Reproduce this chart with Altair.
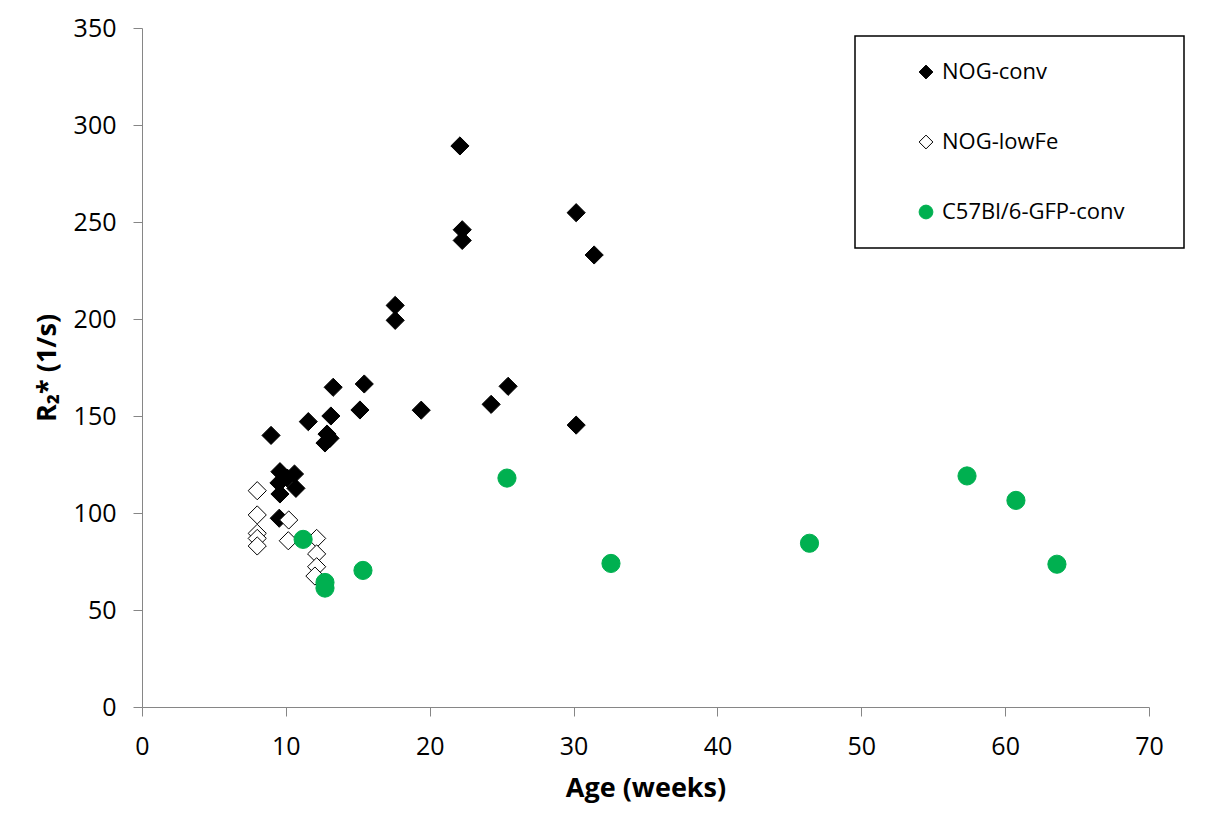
import altair as alt
import pandas as pd

# NOG-conv (filled black diamonds)
conv_age = [22.1, 22.26, 22.26, 30.18, 31.43, 17.6, 17.6, 15.45, 13.29, 25.45, 24.27,
            19.41, 15.15, 13.13, 11.56, 8.97, 12.86, 13.07, 12.72, 30.18,
            9.59, 10.6, 10.1, 9.52, 10.7, 9.59, 9.54]
conv_r2 = [289.2, 246.0, 240.5, 254.8, 233.0, 207.0, 199.3, 166.5, 164.8, 165.3, 156.0,
           153.0, 153.1, 150.0, 147.1, 140.0, 140.7, 138.5, 136.1, 145.3,
           121.3, 120.1, 118.0, 115.5, 112.7, 109.8, 97.3]

# NOG-lowFe (open diamonds)
low_age = [8.01, 8.01, 8.01, 8.01, 8.01, 10.2, 10.17, 12.14, 12.14, 12.14, 12.02]
low_r2 = [111.5, 99.0, 89.5, 86.9, 83.0, 96.4, 85.7, 86.9, 78.9, 72.3, 67.5]

# C57Bl/6-GFP-conv (green circles)
gfp_age = [11.2, 12.72, 12.72, 15.36, 25.37, 32.6, 46.4, 57.35, 60.75, 63.6]
gfp_r2 = [86.4, 64.2, 61.3, 70.4, 118.0, 74.0, 84.4, 119.1, 106.5, 73.6]

series_names = ["NOG-conv", "NOG-lowFe", "C57Bl/6-GFP-conv"]
shapes = ["diamond", "diamond", "circle"]
fills = ["#000000", "#ffffff", "#00B050"]
strokes = ["#000000", "#000000", "#00B050"]
x_ticks = [0, 10, 20, 30, 40, 50, 60, 70]
y_ticks = [0, 50, 100, 150, 200, 250, 300, 350]

rows = []
for name, ages, vals in zip(series_names, [conv_age, low_age, gfp_age], [conv_r2, low_r2, gfp_r2]):
    for a, v in zip(ages, vals):
        rows.append({"series": name, "age": a, "r2": v})
df = pd.DataFrame(rows)

FONT = "Open Sans"
AXIS_GREY = "#868686"
# invisible trailing room so the legend frame is as wide as in the original
PAD = "\u00a0" * 6 + "\u200b"

leg = alt.Legend(
    title=None, orient="none", legendX=713, legendY=8,
    strokeColor="#000000", padding=25, rowPadding=48,
    symbolSize=190, symbolStrokeWidth=1, symbolOffset=35, labelOffset=5,
    labelFont=FONT, labelFontSize=22, labelColor="#000000", labelLimit=600,
    labelExpr="datum.label + '" + PAD + "'",
)

chart = alt.Chart(df).mark_point(size=330, filled=False, strokeWidth=1, opacity=1).encode(
    x=alt.X("age:Q",
            scale=alt.Scale(domain=[0, 70], nice=False, zero=True),
            axis=alt.Axis(title="Age (weeks)", values=x_ticks, format="d", grid=False,
                          tickSize=9, labelPadding=18, titlePadding=16, labelFlush=False)),
    y=alt.Y("r2:Q",
            scale=alt.Scale(domain=[0, 350], nice=False, zero=True),
            axis=alt.Axis(title="R₂* (1/s)", values=y_ticks, format="d", grid=False,
                          tickSize=9, labelPadding=17, titlePadding=12, labelFlush=False)),
    shape=alt.Shape("series:N", scale=alt.Scale(domain=series_names, range=shapes), legend=leg),
    fill=alt.Fill("series:N", scale=alt.Scale(domain=series_names, range=fills), legend=leg),
    stroke=alt.Stroke("series:N", scale=alt.Scale(domain=series_names, range=strokes), legend=leg),
    order=alt.Order("idx:Q"),
).transform_window(idx="row_number()").properties(
    width=1007, height=679,
    autosize=alt.AutoSizeParams(type="none"),
    padding={"left": 134, "top": 20, "right": 60, "bottom": 110},
).configure_view(stroke=None).configure_axis(
    domainColor=AXIS_GREY, tickColor=AXIS_GREY, domainWidth=1, tickWidth=1,
    labelFont=FONT, labelFontSize=25, labelColor="#000000",
    titleFont=FONT, titleFontSize=27, titleFontWeight="bold", titleColor="#000000",
).configure_legend(strokeWidth=1.5)

chart.save("out.html", embed_options={"renderer": "svg", "actions": False})
